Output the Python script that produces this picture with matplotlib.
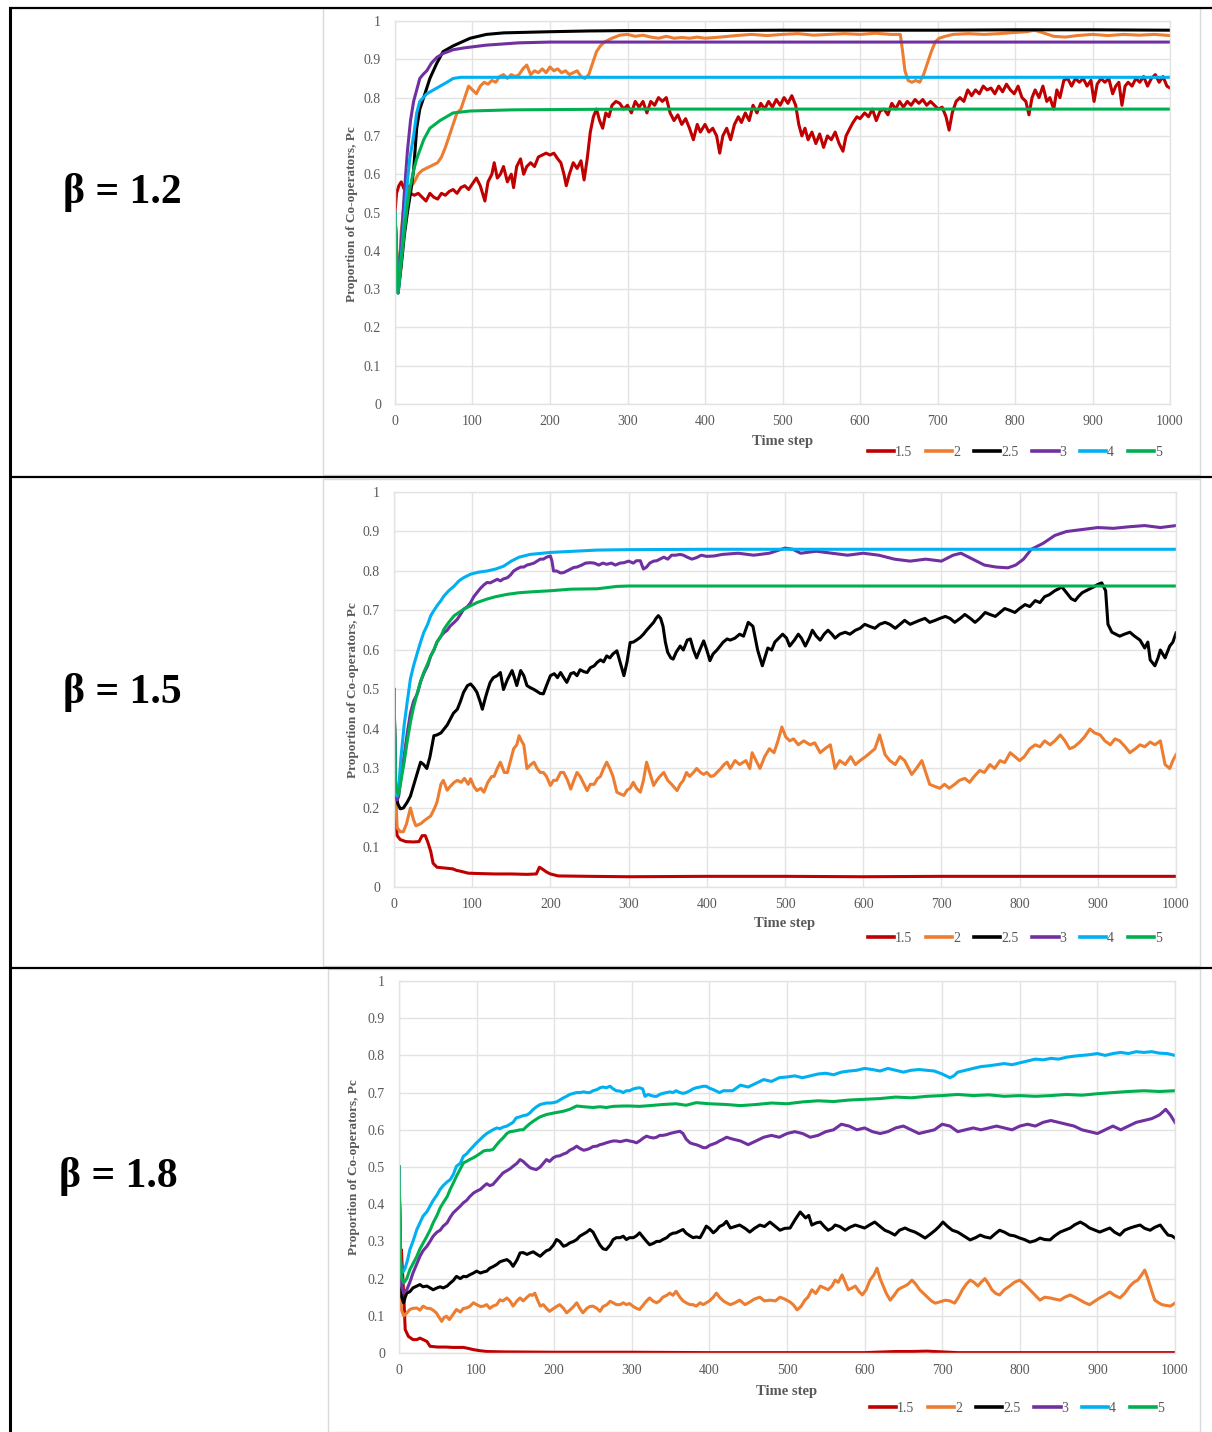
import matplotlib
matplotlib.use('Agg')
import matplotlib.pyplot as plt
from matplotlib.lines import Line2D
from matplotlib.patches import Rectangle

plt.rcParams['font.family'] = ['Liberation Serif', 'DejaVu Serif']

beta_labels = ['β = 1.2', 'β = 1.5', 'β = 1.8']
series_names = ['1.5', '2', '2.5', '3', '4', '5']
series_colors = ['#C00000', '#ED7D31', '#000000', '#7030A0', '#00B0F0', '#00B050']
x_ticks = [0, 100, 200, 300, 400, 500, 600, 700, 800, 900, 1000]
y_ticks = [0, 0.1, 0.2, 0.3, 0.4, 0.5, 0.6, 0.7, 0.8, 0.9, 1]
y_ticklabels = ['0', '0.1', '0.2', '0.3', '0.4', '0.5', '0.6', '0.7', '0.8', '0.9', '1']

# ---- beta = 1.2 : (time step, Pc) ----
b12_s15 = [(0, 0.50), (2, 0.55), (5, 0.57), (8, 0.58), (12, 0.56), (16, 0.57), (20, 0.55), (25, 0.545),
           (30, 0.55), (35, 0.54), (40, 0.53), (45, 0.55), (50, 0.54), (55, 0.535), (60, 0.55), (65, 0.545),
           (70, 0.555), (75, 0.56), (80, 0.55), (85, 0.565), (90, 0.57), (95, 0.56), (100, 0.575), (105, 0.59),
           (110, 0.57), (116, 0.53), (120, 0.58), (125, 0.60), (128, 0.63), (132, 0.59), (136, 0.60), (140, 0.62),
           (145, 0.58), (150, 0.60), (153, 0.565), (157, 0.62), (162, 0.64), (166, 0.60), (170, 0.62), (175, 0.63),
           (180, 0.62), (185, 0.645), (190, 0.65), (195, 0.655), (200, 0.65), (205, 0.655), (210, 0.64), (214, 0.63),
           (218, 0.60), (221, 0.57), (225, 0.60), (230, 0.63), (235, 0.615), (240, 0.635), (244, 0.585), (248, 0.64),
           (252, 0.71), (256, 0.75), (260, 0.77), (264, 0.74), (268, 0.72), (272, 0.76), (276, 0.75), (280, 0.78),
           (285, 0.79), (290, 0.785), (295, 0.77), (300, 0.78), (305, 0.76), (310, 0.79), (315, 0.775), (320, 0.79),
           (325, 0.76), (330, 0.79), (335, 0.78), (340, 0.80), (345, 0.79), (350, 0.80), (355, 0.76), (360, 0.74),
           (365, 0.755), (370, 0.73), (375, 0.745), (380, 0.72), (385, 0.69), (390, 0.73), (394, 0.71), (400, 0.73),
           (405, 0.71), (410, 0.72), (415, 0.70), (419, 0.655), (423, 0.70), (428, 0.72), (433, 0.69), (438, 0.73),
           (443, 0.75), (447, 0.735), (452, 0.76), (457, 0.74), (462, 0.78), (467, 0.76), (472, 0.785), (477, 0.77),
           (482, 0.79), (487, 0.775), (492, 0.795), (497, 0.78), (502, 0.80), (507, 0.785), (512, 0.805), (517, 0.78),
           (521, 0.73), (525, 0.70), (529, 0.72), (533, 0.69), (538, 0.71), (543, 0.68), (548, 0.705), (553, 0.67),
           (558, 0.70), (563, 0.69), (568, 0.71), (573, 0.68), (578, 0.66), (582, 0.70), (587, 0.72), (591, 0.735),
           (596, 0.75), (600, 0.745), (606, 0.76), (611, 0.75), (616, 0.77), (621, 0.74), (626, 0.765), (631, 0.77),
           (636, 0.755), (641, 0.785), (646, 0.77), (651, 0.79), (656, 0.775), (661, 0.79), (666, 0.78), (671, 0.795),
           (676, 0.785), (681, 0.795), (686, 0.78), (691, 0.79), (696, 0.78), (701, 0.77), (706, 0.775), (711, 0.75),
           (715, 0.715), (719, 0.76), (724, 0.79), (729, 0.80), (734, 0.79), (739, 0.82), (744, 0.805), (749, 0.82),
           (754, 0.81), (759, 0.83), (764, 0.82), (769, 0.825), (774, 0.81), (779, 0.83), (784, 0.815), (789, 0.835),
           (794, 0.82), (799, 0.81), (804, 0.83), (809, 0.80), (814, 0.79), (818, 0.755), (822, 0.80), (826, 0.82),
           (831, 0.80), (836, 0.83), (841, 0.79), (845, 0.80), (850, 0.77), (854, 0.82), (858, 0.80), (863, 0.845),
           (868, 0.85), (873, 0.83), (878, 0.85), (883, 0.84), (888, 0.85), (893, 0.83), (898, 0.845), (902, 0.79),
           (906, 0.835), (911, 0.85), (916, 0.84), (921, 0.85), (926, 0.81), (930, 0.83), (934, 0.84), (938, 0.78),
           (942, 0.83), (946, 0.84), (951, 0.83), (956, 0.85), (961, 0.84), (966, 0.855), (971, 0.83), (976, 0.85),
           (981, 0.86), (986, 0.84), (991, 0.855), (996, 0.83), (1000, 0.825)]
b12_s2 = [(0, 0.50), (4, 0.30), (8, 0.45), (12, 0.53), (16, 0.56), (20, 0.565), (25, 0.58), (30, 0.60),
          (35, 0.61), (40, 0.615), (45, 0.62), (50, 0.625), (55, 0.63), (60, 0.645), (65, 0.67), (70, 0.70),
          (75, 0.73), (80, 0.76), (85, 0.77), (90, 0.80), (95, 0.83), (100, 0.82), (105, 0.81), (110, 0.83),
          (115, 0.84), (120, 0.835), (125, 0.845), (130, 0.84), (135, 0.855), (140, 0.86), (145, 0.85), (150, 0.86),
          (155, 0.855), (160, 0.86), (165, 0.875), (170, 0.885), (175, 0.86), (180, 0.87), (185, 0.865), (190, 0.875),
          (195, 0.865), (200, 0.88), (205, 0.87), (210, 0.875), (215, 0.865), (220, 0.87), (225, 0.86), (230, 0.865),
          (235, 0.87), (240, 0.855), (245, 0.85), (250, 0.86), (255, 0.89), (260, 0.92), (265, 0.935), (270, 0.945),
          (275, 0.95), (280, 0.955), (290, 0.963), (300, 0.965), (310, 0.96), (320, 0.963), (330, 0.958), (340, 0.955),
          (350, 0.96), (360, 0.955), (370, 0.957), (380, 0.955), (390, 0.958), (400, 0.955), (420, 0.958), (440, 0.962),
          (460, 0.965), (480, 0.962), (500, 0.965), (520, 0.967), (540, 0.963), (560, 0.965), (580, 0.967), (600, 0.965),
          (620, 0.968), (640, 0.965), (652, 0.965), (655, 0.92), (658, 0.87), (662, 0.845), (667, 0.84), (672, 0.845),
          (677, 0.84), (682, 0.86), (687, 0.89), (692, 0.92), (697, 0.945), (702, 0.955), (710, 0.96), (720, 0.965),
          (740, 0.967), (760, 0.965), (780, 0.967), (800, 0.97), (815, 0.972), (825, 0.976), (835, 0.97), (850, 0.96),
          (865, 0.958), (880, 0.962), (900, 0.965), (920, 0.962), (940, 0.965), (960, 0.963), (980, 0.965), (1000, 0.962)]
b12_s25 = [(0, 0.50), (4, 0.29), (8, 0.36), (12, 0.44), (16, 0.50), (20, 0.55), (24, 0.61), (28, 0.72),
           (32, 0.77), (37, 0.80), (45, 0.85), (54, 0.89), (62, 0.92), (75, 0.935), (86, 0.945), (97, 0.955),
           (118, 0.965), (140, 0.969), (160, 0.97), (200, 0.972), (250, 0.974), (300, 0.975), (400, 0.975),
           (500, 0.976), (600, 0.976), (700, 0.976), (800, 0.977), (900, 0.977), (1000, 0.976)]
b12_s3 = [(0, 0.50), (4, 0.29), (8, 0.42), (12, 0.55), (16, 0.66), (20, 0.74), (24, 0.79), (28, 0.82),
          (32, 0.85), (36, 0.86), (41, 0.87), (47, 0.89), (54, 0.905), (62, 0.915), (75, 0.925), (90, 0.93),
          (118, 0.937), (160, 0.943), (200, 0.945), (1000, 0.945)]
b12_s4 = [(0, 0.50), (4, 0.29), (8, 0.38), (12, 0.48), (16, 0.58), (19, 0.64), (24, 0.70), (28, 0.76),
          (32, 0.79), (41, 0.81), (54, 0.825), (67, 0.84), (75, 0.85), (85, 0.853), (100, 0.853), (1000, 0.853)]
b12_s5 = [(0, 0.50), (4, 0.29), (8, 0.37), (12, 0.45), (16, 0.52), (19, 0.56), (24, 0.61), (28, 0.64),
          (37, 0.69), (45, 0.72), (58, 0.74), (75, 0.76), (97, 0.765), (150, 0.768), (300, 0.77), (1000, 0.77)]

# ---- beta = 1.5 ----
b15_s15 = [(0, 0.50), (2, 0.20), (4, 0.13), (8, 0.12), (15, 0.115), (25, 0.114), (32, 0.115), (36, 0.13),
           (40, 0.13), (43, 0.115), (47, 0.09), (50, 0.06), (55, 0.05), (65, 0.048), (75, 0.046), (80, 0.042),
           (85, 0.04), (95, 0.035), (110, 0.034), (130, 0.033), (150, 0.033), (170, 0.032), (182, 0.033),
           (186, 0.05), (190, 0.045), (195, 0.038), (200, 0.033), (210, 0.028), (250, 0.027), (300, 0.026),
           (400, 0.027), (500, 0.027), (600, 0.026), (700, 0.027), (800, 0.027), (900, 0.027), (1000, 0.027)]
b15_s2 = [(0, 0.50), (2, 0.25), (4, 0.15), (8, 0.14), (12, 0.14), (16, 0.16), (21, 0.20), (25, 0.17),
          (28, 0.155), (34, 0.16), (40, 0.17), (47, 0.18), (52, 0.20), (55, 0.215), (60, 0.26), (63, 0.27),
          (68, 0.245), (72, 0.255), (77, 0.265), (81, 0.27), (86, 0.265), (90, 0.275), (95, 0.26), (98, 0.274),
          (102, 0.255), (106, 0.244), (111, 0.25), (115, 0.24), (120, 0.265), (125, 0.28), (128, 0.28), (132, 0.30),
          (136, 0.316), (141, 0.29), (145, 0.29), (149, 0.32), (153, 0.35), (157, 0.36), (160, 0.383), (163, 0.37),
          (166, 0.36), (170, 0.30), (175, 0.31), (179, 0.316), (183, 0.30), (187, 0.29), (191, 0.29), (195, 0.28),
          (200, 0.257), (204, 0.27), (208, 0.27), (213, 0.29), (217, 0.29), (222, 0.27), (226, 0.248), (230, 0.27),
          (234, 0.29), (238, 0.28), (243, 0.26), (247, 0.244), (251, 0.26), (256, 0.26), (260, 0.274), (264, 0.28),
          (268, 0.30), (272, 0.316), (276, 0.30), (280, 0.28), (285, 0.24), (290, 0.235), (294, 0.232), (298, 0.245),
          (302, 0.25), (306, 0.265), (310, 0.25), (315, 0.24), (319, 0.27), (323, 0.316), (327, 0.29), (332, 0.257),
          (336, 0.27), (340, 0.28), (345, 0.29), (350, 0.27), (355, 0.26), (362, 0.244), (366, 0.26), (370, 0.27),
          (374, 0.29), (378, 0.28), (383, 0.29), (387, 0.30), (392, 0.29), (396, 0.285), (400, 0.29), (405, 0.28),
          (409, 0.282), (413, 0.29), (418, 0.30), (422, 0.31), (426, 0.316), (430, 0.30), (436, 0.32), (442, 0.31),
          (450, 0.32), (455, 0.30), (458, 0.34), (463, 0.32), (468, 0.30), (474, 0.33), (480, 0.35), (486, 0.34),
          (491, 0.37), (496, 0.405), (501, 0.38), (506, 0.37), (511, 0.375), (517, 0.36), (524, 0.37), (532, 0.36),
          (538, 0.365), (545, 0.34), (551, 0.35), (558, 0.36), (564, 0.30), (570, 0.32), (577, 0.31), (584, 0.33),
          (590, 0.31), (596, 0.32), (603, 0.33), (609, 0.34), (615, 0.35), (621, 0.385), (628, 0.335), (634, 0.32),
          (641, 0.31), (647, 0.33), (653, 0.32), (662, 0.285), (668, 0.30), (675, 0.32), (680, 0.29), (685, 0.26),
          (691, 0.255), (698, 0.25), (704, 0.26), (710, 0.25), (717, 0.26), (723, 0.27), (730, 0.275), (736, 0.265),
          (742, 0.28), (749, 0.295), (755, 0.29), (762, 0.31), (768, 0.30), (775, 0.32), (781, 0.315), (788, 0.34),
          (794, 0.33), (800, 0.32), (806, 0.33), (813, 0.35), (820, 0.36), (826, 0.355), (832, 0.37), (839, 0.36),
          (845, 0.37), (852, 0.385), (858, 0.37), (864, 0.35), (870, 0.355), (877, 0.367), (883, 0.38), (890, 0.40),
          (896, 0.39), (903, 0.385), (909, 0.37), (916, 0.36), (922, 0.375), (928, 0.37), (935, 0.355), (941, 0.34),
          (948, 0.35), (954, 0.36), (960, 0.355), (967, 0.367), (973, 0.36), (980, 0.37), (986, 0.31), (992, 0.30),
          (996, 0.32), (1000, 0.335)]
b15_s25 = [(0, 0.50), (2, 0.24), (5, 0.21), (8, 0.198), (12, 0.20), (17, 0.215), (21, 0.23), (25, 0.257),
           (30, 0.29), (34, 0.316), (38, 0.31), (42, 0.30), (46, 0.33), (51, 0.383), (55, 0.385), (60, 0.39),
           (64, 0.40), (68, 0.41), (72, 0.425), (76, 0.44), (81, 0.45), (85, 0.47), (89, 0.493), (94, 0.51),
           (98, 0.514), (102, 0.505), (106, 0.493), (110, 0.47), (113, 0.45), (117, 0.48), (120, 0.50), (123, 0.518),
           (127, 0.53), (132, 0.535), (136, 0.543), (140, 0.50), (145, 0.525), (151, 0.548), (154, 0.53), (157, 0.51),
           (162, 0.548), (166, 0.535), (170, 0.51), (174, 0.505), (179, 0.50), (183, 0.495), (187, 0.49), (191, 0.489),
           (195, 0.51), (200, 0.535), (205, 0.54), (209, 0.53), (213, 0.543), (217, 0.53), (221, 0.518), (226, 0.54),
           (230, 0.543), (234, 0.535), (238, 0.55), (243, 0.545), (247, 0.543), (251, 0.555), (256, 0.56), (260, 0.569),
           (264, 0.575), (268, 0.57), (272, 0.585), (276, 0.58), (280, 0.59), (285, 0.598), (289, 0.57), (294, 0.535),
           (298, 0.57), (302, 0.619), (306, 0.62), (310, 0.625), (315, 0.632), (319, 0.64), (323, 0.65), (328, 0.661),
           (332, 0.67), (335, 0.68), (338, 0.687), (341, 0.68), (344, 0.66), (347, 0.62), (350, 0.594), (354, 0.58),
           (357, 0.577), (361, 0.595), (366, 0.61), (370, 0.60), (375, 0.625), (379, 0.628), (383, 0.60), (387, 0.58),
           (391, 0.60), (396, 0.623), (400, 0.60), (404, 0.573), (408, 0.59), (413, 0.60), (417, 0.61), (421, 0.62),
           (426, 0.628), (430, 0.625), (436, 0.63), (442, 0.64), (447, 0.635), (453, 0.67), (459, 0.66), (465, 0.60),
           (471, 0.56), (478, 0.605), (483, 0.60), (487, 0.62), (492, 0.63), (497, 0.64), (502, 0.63), (506, 0.61),
           (512, 0.625), (517, 0.64), (521, 0.63), (526, 0.61), (531, 0.63), (535, 0.65), (540, 0.635), (545, 0.625),
           (550, 0.64), (555, 0.65), (560, 0.64), (564, 0.63), (570, 0.64), (577, 0.645), (583, 0.64), (590, 0.65),
           (596, 0.655), (602, 0.665), (608, 0.66), (615, 0.655), (621, 0.665), (628, 0.67), (634, 0.665),
           (641, 0.655), (647, 0.665), (653, 0.675), (660, 0.665), (666, 0.67), (672, 0.675), (679, 0.68),
           (685, 0.67), (692, 0.675), (698, 0.68), (705, 0.685), (711, 0.68), (717, 0.67), (724, 0.68), (730, 0.69),
           (737, 0.68), (743, 0.67), (749, 0.68), (756, 0.695), (762, 0.69), (769, 0.685), (775, 0.695), (781, 0.705),
           (788, 0.70), (794, 0.695), (800, 0.705), (807, 0.715), (813, 0.71), (820, 0.725), (826, 0.72),
           (832, 0.735), (838, 0.74), (845, 0.75), (850, 0.755), (854, 0.76), (858, 0.75), (862, 0.74), (866, 0.73),
           (871, 0.725), (875, 0.735), (880, 0.745), (885, 0.75), (890, 0.755), (895, 0.76), (899, 0.765),
           (905, 0.77), (910, 0.75), (913, 0.665), (918, 0.645), (923, 0.64), (928, 0.635), (934, 0.64),
           (941, 0.645), (947, 0.635), (954, 0.625), (960, 0.605), (964, 0.62), (967, 0.575), (973, 0.56),
           (977, 0.58), (980, 0.60), (986, 0.58), (992, 0.61), (996, 0.62), (1000, 0.643)]
b15_s3 = [(0, 0.50), (2, 0.25), (4, 0.22), (6, 0.23), (9, 0.28), (13, 0.333), (17, 0.39), (21, 0.44),
          (25, 0.47), (30, 0.49), (34, 0.52), (38, 0.54), (43, 0.56), (47, 0.585), (51, 0.60), (55, 0.62),
          (60, 0.635), (64, 0.644), (68, 0.65), (72, 0.661), (77, 0.67), (81, 0.678), (85, 0.69), (89, 0.703),
          (94, 0.71), (98, 0.72), (102, 0.735), (106, 0.745), (110, 0.755), (115, 0.765), (119, 0.771), (123, 0.77),
          (128, 0.775), (132, 0.779), (136, 0.775), (140, 0.78), (145, 0.783), (149, 0.79), (153, 0.80), (157, 0.805),
          (162, 0.81), (166, 0.81), (170, 0.815), (174, 0.817), (179, 0.82), (183, 0.825), (187, 0.83), (191, 0.83),
          (195, 0.835), (200, 0.838), (202, 0.825), (204, 0.80), (208, 0.80), (213, 0.795), (217, 0.796), (221, 0.80),
          (226, 0.805), (230, 0.809), (234, 0.81), (240, 0.815), (245, 0.82), (251, 0.821), (256, 0.82), (262, 0.815),
          (267, 0.82), (272, 0.817), (278, 0.82), (283, 0.815), (289, 0.82), (294, 0.821), (300, 0.825), (306, 0.82),
          (310, 0.826), (315, 0.826), (317, 0.815), (319, 0.805), (323, 0.81), (327, 0.82), (332, 0.825), (336, 0.826),
          (340, 0.83), (345, 0.835), (350, 0.83), (355, 0.84), (360, 0.84), (366, 0.842), (370, 0.84), (375, 0.835),
          (381, 0.83), (387, 0.834), (393, 0.84), (400, 0.837), (409, 0.838), (420, 0.842), (440, 0.845), (460, 0.84),
          (480, 0.845), (500, 0.858), (510, 0.855), (520, 0.845), (540, 0.85), (560, 0.845), (580, 0.84), (600, 0.845),
          (620, 0.84), (640, 0.83), (660, 0.825), (680, 0.83), (700, 0.825), (715, 0.84), (725, 0.845), (740, 0.83),
          (755, 0.815), (770, 0.81), (785, 0.808), (795, 0.815), (805, 0.83), (815, 0.855), (830, 0.87), (845, 0.89),
          (860, 0.90), (880, 0.905), (900, 0.91), (920, 0.908), (940, 0.912), (960, 0.915), (980, 0.91), (1000, 0.915)]
b15_s4 = [(0, 0.50), (2, 0.25), (4, 0.23), (6, 0.25), (9, 0.33), (13, 0.41), (17, 0.47), (21, 0.527),
          (25, 0.56), (30, 0.594), (34, 0.62), (38, 0.644), (43, 0.665), (47, 0.687), (51, 0.70), (55, 0.712),
          (60, 0.725), (64, 0.737), (70, 0.75), (77, 0.762), (83, 0.775), (89, 0.783), (98, 0.792), (108, 0.797),
          (119, 0.80), (130, 0.805), (140, 0.812), (150, 0.825), (160, 0.835), (174, 0.842), (190, 0.845),
          (200, 0.847), (230, 0.85), (260, 0.853), (300, 0.854), (400, 0.855), (1000, 0.855)]
b15_s5 = [(0, 0.50), (2, 0.27), (4, 0.24), (6, 0.236), (9, 0.27), (13, 0.316), (17, 0.37), (21, 0.417),
          (25, 0.455), (30, 0.493), (34, 0.52), (38, 0.543), (43, 0.565), (47, 0.585), (51, 0.60), (55, 0.62),
          (60, 0.635), (64, 0.653), (70, 0.67), (77, 0.687), (83, 0.695), (89, 0.703), (98, 0.712), (106, 0.72),
          (119, 0.729), (130, 0.735), (145, 0.741), (160, 0.745), (174, 0.747), (200, 0.75), (226, 0.754),
          (260, 0.755), (285, 0.761), (300, 0.762), (1000, 0.762)]

# ---- beta = 1.8 ----
b18_s15 = [(0, 0.50), (2, 0.20), (3, 0.278), (5, 0.20), (6, 0.16), (8, 0.063), (12, 0.045), (18, 0.036),
           (23, 0.036), (27, 0.04), (32, 0.035), (36, 0.031), (40, 0.018), (50, 0.016), (60, 0.016), (70, 0.015),
           (83, 0.015), (90, 0.012), (96, 0.009), (105, 0.006), (113, 0.004), (134, 0.003), (200, 0.002),
           (300, 0.002), (400, 0.001), (600, 0.001), (640, 0.004), (660, 0.004), (680, 0.005), (700, 0.003),
           (720, 0.001), (1000, 0.001)]
b18_s2 = [(0, 0.50), (2, 0.20), (3, 0.117), (6, 0.10), (8, 0.103), (11, 0.11), (14, 0.117), (18, 0.12),
          (23, 0.121), (27, 0.115), (31, 0.126), (36, 0.12), (40, 0.12), (44, 0.115), (48, 0.108), (52, 0.095),
          (55, 0.085), (58, 0.095), (61, 0.099), (65, 0.09), (70, 0.105), (74, 0.117), (79, 0.11), (83, 0.12),
          (87, 0.121), (91, 0.125), (96, 0.135), (100, 0.13), (105, 0.125), (109, 0.126), (113, 0.13), (117, 0.12),
          (121, 0.126), (126, 0.13), (130, 0.143), (134, 0.14), (139, 0.148), (143, 0.14), (147, 0.126), (152, 0.14),
          (156, 0.148), (160, 0.14), (165, 0.15), (169, 0.157), (172, 0.155), (175, 0.161), (178, 0.145), (182, 0.126),
          (186, 0.13), (190, 0.12), (194, 0.112), (198, 0.118), (203, 0.125), (207, 0.13), (212, 0.12), (216, 0.108),
          (220, 0.115), (225, 0.125), (229, 0.135), (233, 0.12), (237, 0.108), (242, 0.12), (246, 0.125), (250, 0.126),
          (255, 0.12), (259, 0.112), (263, 0.125), (268, 0.13), (272, 0.139), (276, 0.135), (280, 0.13), (285, 0.13),
          (289, 0.135), (293, 0.13), (297, 0.133), (302, 0.125), (306, 0.12), (310, 0.117), (315, 0.13), (319, 0.14),
          (323, 0.148), (327, 0.14), (332, 0.135), (336, 0.14), (340, 0.15), (345, 0.155), (349, 0.161), (353, 0.155),
          (357, 0.166), (362, 0.15), (366, 0.14), (370, 0.135), (375, 0.13), (379, 0.13), (383, 0.126), (388, 0.135),
          (392, 0.13), (396, 0.135), (400, 0.14), (405, 0.15), (409, 0.161), (413, 0.15), (418, 0.14), (422, 0.135),
          (427, 0.13), (433, 0.135), (439, 0.142), (446, 0.13), (452, 0.137), (458, 0.145), (465, 0.15), (471, 0.14),
          (478, 0.142), (485, 0.14), (491, 0.15), (497, 0.145), (504, 0.137), (508, 0.13), (513, 0.116), (518, 0.125),
          (523, 0.142), (527, 0.15), (532, 0.17), (537, 0.16), (543, 0.18), (548, 0.175), (553, 0.17), (558, 0.18),
          (562, 0.196), (566, 0.19), (571, 0.21), (575, 0.19), (579, 0.17), (584, 0.175), (588, 0.18), (593, 0.165),
          (597, 0.156), (602, 0.17), (607, 0.196), (612, 0.21), (616, 0.228), (620, 0.20), (624, 0.18), (628, 0.16),
          (633, 0.142), (638, 0.155), (643, 0.17), (647, 0.175), (652, 0.18), (656, 0.185), (661, 0.196), (666, 0.185),
          (671, 0.17), (676, 0.16), (682, 0.148), (686, 0.14), (691, 0.134), (698, 0.138), (704, 0.142), (710, 0.14),
          (716, 0.134), (721, 0.15), (726, 0.17), (731, 0.185), (736, 0.196), (741, 0.19), (746, 0.18), (750, 0.19),
          (755, 0.20), (760, 0.185), (764, 0.17), (769, 0.16), (774, 0.156), (780, 0.17), (787, 0.18), (793, 0.19),
          (800, 0.196), (806, 0.185), (813, 0.17), (820, 0.155), (826, 0.142), (832, 0.15), (839, 0.148),
          (845, 0.145), (852, 0.142), (858, 0.15), (865, 0.156), (871, 0.15), (878, 0.142), (884, 0.135),
          (890, 0.13), (897, 0.14), (903, 0.148), (909, 0.155), (916, 0.164), (922, 0.155), (929, 0.148),
          (935, 0.16), (942, 0.18), (947, 0.19), (952, 0.196), (957, 0.21), (961, 0.223), (965, 0.20), (968, 0.18),
          (971, 0.16), (974, 0.142), (979, 0.135), (983, 0.13), (988, 0.128), (994, 0.126), (1000, 0.134)]
b18_s25 = [(0, 0.50), (2, 0.20), (3, 0.152), (6, 0.135), (8, 0.15), (10, 0.161), (14, 0.165), (18, 0.175),
           (23, 0.18), (27, 0.184), (31, 0.178), (36, 0.18), (40, 0.175), (44, 0.17), (49, 0.175), (53, 0.178),
           (57, 0.175), (62, 0.18), (66, 0.188), (70, 0.195), (74, 0.206), (79, 0.20), (83, 0.206), (87, 0.205),
           (91, 0.21), (96, 0.215), (100, 0.22), (105, 0.215), (109, 0.218), (113, 0.22), (117, 0.228), (121, 0.232),
           (126, 0.238), (130, 0.245), (134, 0.248), (139, 0.251), (143, 0.245), (147, 0.233), (152, 0.25), (156, 0.269),
           (160, 0.27), (165, 0.265), (169, 0.269), (173, 0.272), (178, 0.265), (182, 0.26), (186, 0.268), (190, 0.275),
           (194, 0.278), (199, 0.29), (203, 0.305), (207, 0.30), (212, 0.287), (216, 0.29), (220, 0.296), (225, 0.30),
           (229, 0.305), (233, 0.314), (238, 0.32), (242, 0.325), (246, 0.332), (250, 0.325), (255, 0.305), (259, 0.29),
           (263, 0.28), (267, 0.278), (272, 0.29), (276, 0.305), (280, 0.31), (285, 0.31), (289, 0.314), (293, 0.305),
           (297, 0.31), (302, 0.31), (306, 0.315), (310, 0.323), (315, 0.31), (319, 0.30), (323, 0.291), (328, 0.295),
           (332, 0.30), (336, 0.30), (340, 0.305), (345, 0.31), (349, 0.318), (353, 0.322), (357, 0.323), (362, 0.328),
           (366, 0.332), (370, 0.322), (375, 0.315), (379, 0.31), (383, 0.312), (388, 0.31), (392, 0.325), (396, 0.341),
           (400, 0.335), (405, 0.323), (409, 0.33), (413, 0.34), (418, 0.345), (422, 0.354), (427, 0.336), (433, 0.34),
           (439, 0.344), (446, 0.335), (452, 0.325), (458, 0.335), (465, 0.344), (471, 0.34), (478, 0.352),
           (485, 0.34), (491, 0.33), (497, 0.335), (504, 0.336), (510, 0.357), (517, 0.379), (524, 0.363),
           (528, 0.37), (532, 0.344), (538, 0.35), (543, 0.352), (548, 0.34), (553, 0.33), (558, 0.335), (562, 0.344),
           (568, 0.34), (575, 0.33), (581, 0.338), (588, 0.344), (594, 0.34), (600, 0.336), (607, 0.345),
           (613, 0.352), (620, 0.34), (626, 0.33), (632, 0.325), (639, 0.317), (645, 0.33), (652, 0.336),
           (658, 0.33), (665, 0.325), (671, 0.318), (678, 0.309), (685, 0.32), (691, 0.33), (696, 0.34), (701, 0.352),
           (707, 0.34), (713, 0.33), (720, 0.325), (726, 0.317), (731, 0.31), (736, 0.304), (743, 0.31),
           (749, 0.317), (755, 0.312), (762, 0.309), (768, 0.32), (774, 0.33), (780, 0.325), (787, 0.317),
           (793, 0.315), (800, 0.309), (806, 0.305), (813, 0.298), (820, 0.302), (826, 0.309), (832, 0.305),
           (839, 0.304), (845, 0.315), (852, 0.325), (858, 0.33), (865, 0.336), (871, 0.345), (878, 0.352),
           (884, 0.345), (890, 0.336), (897, 0.33), (903, 0.325), (909, 0.33), (916, 0.336), (922, 0.325),
           (929, 0.317), (935, 0.33), (942, 0.336), (948, 0.34), (955, 0.344), (961, 0.335), (968, 0.33),
           (974, 0.338), (981, 0.344), (986, 0.33), (991, 0.317), (996, 0.315), (1000, 0.309)]
b18_s3 = [(0, 0.50), (2, 0.25), (3, 0.184), (6, 0.161), (10, 0.17), (14, 0.19), (18, 0.215), (23, 0.24),
          (27, 0.26), (31, 0.275), (36, 0.287), (40, 0.30), (44, 0.314), (49, 0.325), (53, 0.33), (57, 0.341),
          (62, 0.35), (66, 0.365), (70, 0.377), (74, 0.385), (79, 0.395), (83, 0.404), (87, 0.41), (91, 0.42),
          (96, 0.43), (100, 0.435), (105, 0.44), (109, 0.448), (113, 0.455), (117, 0.45), (121, 0.453), (126, 0.465),
          (130, 0.475), (134, 0.484), (139, 0.49), (143, 0.495), (147, 0.502), (152, 0.51), (156, 0.52), (160, 0.515),
          (165, 0.505), (169, 0.498), (173, 0.495), (177, 0.493), (182, 0.50), (186, 0.51), (190, 0.52), (194, 0.515),
          (199, 0.525), (203, 0.529), (207, 0.53), (212, 0.535), (216, 0.538), (220, 0.545), (225, 0.55), (229, 0.556),
          (233, 0.55), (238, 0.545), (242, 0.547), (246, 0.55), (250, 0.555), (255, 0.556), (259, 0.56), (263, 0.562),
          (267, 0.565), (272, 0.568), (276, 0.57), (280, 0.57), (285, 0.568), (289, 0.57), (293, 0.572), (297, 0.57),
          (302, 0.568), (306, 0.565), (310, 0.57), (315, 0.578), (319, 0.583), (323, 0.58), (328, 0.578), (332, 0.58),
          (336, 0.585), (340, 0.585), (345, 0.587), (349, 0.59), (353, 0.592), (357, 0.594), (362, 0.596), (366, 0.59),
          (370, 0.575), (375, 0.565), (379, 0.562), (383, 0.56), (388, 0.556), (392, 0.552), (396, 0.552), (400, 0.558),
          (405, 0.562), (409, 0.565), (413, 0.57), (418, 0.575), (422, 0.58), (430, 0.575), (440, 0.57), (450, 0.56),
          (460, 0.57), (470, 0.58), (480, 0.585), (490, 0.58), (500, 0.59), (510, 0.595), (520, 0.59), (530, 0.58),
          (540, 0.585), (550, 0.595), (560, 0.60), (570, 0.615), (580, 0.61), (590, 0.60), (600, 0.605), (610, 0.595),
          (620, 0.59), (630, 0.595), (640, 0.605), (650, 0.61), (660, 0.60), (670, 0.59), (680, 0.595), (690, 0.60),
          (700, 0.615), (710, 0.61), (720, 0.595), (730, 0.60), (740, 0.605), (750, 0.60), (760, 0.605), (770, 0.61),
          (780, 0.605), (790, 0.60), (800, 0.61), (810, 0.615), (820, 0.61), (830, 0.62), (840, 0.625), (850, 0.62),
          (860, 0.615), (870, 0.61), (880, 0.60), (890, 0.595), (900, 0.59), (910, 0.60), (920, 0.61), (930, 0.60),
          (940, 0.61), (950, 0.62), (960, 0.625), (970, 0.63), (980, 0.64), (988, 0.655), (994, 0.64), (1000, 0.62)]
b18_s4 = [(0, 0.50), (2, 0.25), (3, 0.215), (6, 0.22), (8, 0.229), (11, 0.25), (14, 0.278), (18, 0.30),
          (23, 0.332), (27, 0.35), (31, 0.368), (36, 0.38), (40, 0.395), (44, 0.41), (49, 0.425), (53, 0.44),
          (57, 0.45), (62, 0.46), (66, 0.466), (70, 0.48), (74, 0.502), (79, 0.51), (83, 0.529), (87, 0.535),
          (91, 0.545), (96, 0.556), (100, 0.565), (105, 0.575), (109, 0.583), (113, 0.59), (117, 0.595), (121, 0.60),
          (126, 0.605), (130, 0.603), (134, 0.607), (139, 0.61), (143, 0.615), (147, 0.62), (151, 0.632), (156, 0.635),
          (160, 0.638), (165, 0.64), (169, 0.646), (173, 0.655), (178, 0.663), (182, 0.668), (186, 0.67), (190, 0.672),
          (195, 0.672), (199, 0.673), (203, 0.675), (207, 0.68), (212, 0.686), (216, 0.69), (220, 0.695), (225, 0.698),
          (229, 0.70), (233, 0.70), (238, 0.702), (242, 0.70), (246, 0.70), (250, 0.705), (255, 0.708), (259, 0.713),
          (263, 0.715), (267, 0.713), (272, 0.717), (276, 0.71), (280, 0.705), (285, 0.704), (289, 0.70), (293, 0.705),
          (297, 0.705), (302, 0.71), (306, 0.712), (310, 0.713), (314, 0.71), (317, 0.69), (321, 0.695), (325, 0.692),
          (329, 0.69), (332, 0.69), (336, 0.695), (340, 0.698), (345, 0.70), (349, 0.702), (353, 0.70), (357, 0.705),
          (362, 0.70), (366, 0.698), (370, 0.70), (375, 0.705), (379, 0.71), (383, 0.713), (388, 0.715), (392, 0.717),
          (396, 0.717), (400, 0.712), (405, 0.708), (409, 0.704), (413, 0.70), (418, 0.705), (422, 0.705), (430, 0.705),
          (440, 0.72), (450, 0.715), (460, 0.725), (470, 0.735), (480, 0.73), (490, 0.74), (500, 0.742), (510, 0.745),
          (520, 0.74), (530, 0.745), (540, 0.75), (550, 0.752), (560, 0.748), (570, 0.755), (580, 0.758), (590, 0.76),
          (600, 0.765), (610, 0.762), (620, 0.758), (630, 0.765), (640, 0.76), (650, 0.755), (660, 0.76), (670, 0.762),
          (680, 0.76), (690, 0.758), (700, 0.75), (705, 0.745), (710, 0.74), (715, 0.745), (720, 0.755), (730, 0.76),
          (740, 0.765), (750, 0.77), (760, 0.772), (770, 0.775), (780, 0.778), (790, 0.775), (800, 0.78), (810, 0.785),
          (820, 0.79), (830, 0.788), (840, 0.792), (850, 0.79), (860, 0.795), (870, 0.798), (880, 0.80), (890, 0.802),
          (900, 0.805), (910, 0.80), (920, 0.805), (930, 0.808), (940, 0.805), (950, 0.81), (960, 0.808), (970, 0.81),
          (980, 0.806), (990, 0.805), (1000, 0.80)]
b18_s5 = [(0, 0.50), (2, 0.25), (3, 0.206), (6, 0.188), (10, 0.20), (14, 0.224), (18, 0.24), (23, 0.26),
          (27, 0.28), (31, 0.295), (36, 0.314), (40, 0.33), (44, 0.35), (49, 0.37), (53, 0.39), (57, 0.404),
          (62, 0.42), (66, 0.44), (70, 0.457), (74, 0.475), (79, 0.495), (83, 0.511), (87, 0.515), (91, 0.52),
          (96, 0.525), (100, 0.53), (105, 0.537), (109, 0.543), (113, 0.545), (117, 0.545), (121, 0.547), (126, 0.56),
          (130, 0.57), (134, 0.578), (139, 0.59), (143, 0.595), (147, 0.596), (152, 0.598), (156, 0.60), (160, 0.60),
          (165, 0.61), (169, 0.617), (173, 0.623), (178, 0.63), (182, 0.635), (186, 0.638), (190, 0.641), (199, 0.645),
          (207, 0.648), (212, 0.65), (220, 0.655), (229, 0.664), (238, 0.662), (250, 0.66), (259, 0.662), (267, 0.66),
          (276, 0.663), (289, 0.664), (297, 0.664), (310, 0.663), (323, 0.665), (340, 0.668), (357, 0.67), (370, 0.666),
          (383, 0.673), (400, 0.67), (422, 0.668), (440, 0.665), (460, 0.668), (480, 0.672), (500, 0.67), (520, 0.675),
          (540, 0.678), (560, 0.676), (580, 0.68), (600, 0.682), (620, 0.684), (640, 0.688), (660, 0.686), (680, 0.69),
          (700, 0.692), (720, 0.695), (740, 0.692), (760, 0.694), (780, 0.69), (800, 0.692), (820, 0.69), (840, 0.692),
          (860, 0.695), (880, 0.693), (900, 0.697), (920, 0.70), (940, 0.703), (960, 0.705), (980, 0.703), (1000, 0.705)]

panels = [
    [b12_s15, b12_s2, b12_s25, b12_s3, b12_s4, b12_s5],
    [b15_s15, b15_s2, b15_s25, b15_s3, b15_s4, b15_s5],
    [b18_s15, b18_s2, b18_s25, b18_s3, b18_s4, b18_s5],
]

# layout in pixels of the 1212 x 1432 page
W, H = 1212, 1432
plot_boxes = [(395, 21, 1170, 404), (394, 492, 1176, 887), (399, 981, 1175, 1353)]   # left, top, right, bottom
frames = [(323, 8, 1200, 475), (323, 479, 1200, 966), (328, 969, 1200, 1432)]
beta_pos = [(122, 193), (122, 693), (118, 1177)]
xlabel_pos = [(783, 441), (785, 923), (787, 1391)]
ylabel_pos = [(352, 214), (353, 690), (354, 1167)]
legend_pos = [(1162, 452), (1162, 938), (1164, 1408)]

gray_text = '#595959'
grid_col = '#e3e3e3'

fig = plt.figure(figsize=(W / 100, H / 100), dpi=100)
bg = fig.add_axes([0, 0, 1, 1])
bg.set_xlim(0, W)
bg.set_ylim(H, 0)
bg.axis('off')

# table rules
bg.plot([9, W], [7.5, 7.5], color='black', lw=1.6, solid_capstyle='butt')
bg.plot([9, W], [476.5, 476.5], color='black', lw=1.6, solid_capstyle='butt')
bg.plot([9, W], [967.5, 967.5], color='black', lw=1.6, solid_capstyle='butt')
bg.plot([9.5, 9.5], [6.5, H], color='black', lw=2.2, solid_capstyle='butt')

for i in range(3):
    fx0, fy0, fx1, fy1 = frames[i]
    bg.add_patch(Rectangle((fx0, fy0), fx1 - fx0, fy1 - fy0, facecolor='white',
                           edgecolor='#d9d9d9', lw=1.0))
    bg.text(beta_pos[i][0], beta_pos[i][1], beta_labels[i], fontsize=30, fontweight='bold',
            ha='center', va='center', color='black')
    bg.text(xlabel_pos[i][0], xlabel_pos[i][1], 'Time step', fontsize=10.5, fontweight='bold',
            ha='center', va='center', color=gray_text)
    bg.text(ylabel_pos[i][0], ylabel_pos[i][1], 'Proportion of Co-operators, Pc', fontsize=9.5,
            fontweight='bold', ha='center', va='center', rotation=90, color=gray_text)

    l, t, r, b = plot_boxes[i]
    ax = fig.add_axes([l / W, 1 - b / H, (r - l) / W, (b - t) / H])
    for k in range(6):
        xs = [p[0] for p in panels[i][k]]
        ys = [p[1] for p in panels[i][k]]
        ax.plot(xs, ys, color=series_colors[k], lw=2.2, solid_joinstyle='round')
    ax.set_xlim(0, 1000)
    ax.set_ylim(0, 1)
    ax.set_xticks(x_ticks)
    ax.set_yticks(y_ticks)
    ax.set_yticklabels(y_ticklabels)
    ax.tick_params(length=0, labelsize=10, labelcolor=gray_text)
    ax.tick_params(axis='x', pad=8)
    ax.tick_params(axis='y', pad=10)
    ax.grid(True, color=grid_col, lw=1.0)
    ax.set_axisbelow(True)
    for s in ax.spines.values():
        s.set_color(grid_col)
        s.set_linewidth(1.0)

    handles = [Line2D([], [], color=series_colors[k], lw=2.6) for k in range(6)]
    leg = ax.legend(handles, series_names, loc='center right', ncol=6, frameon=False,
                    bbox_to_anchor=legend_pos[i], bbox_transform=bg.transData,
                    fontsize=10, handlelength=1.9, handletextpad=0.05, columnspacing=1.0,
                    borderpad=0, borderaxespad=0)
    for txt in leg.get_texts():
        txt.set_color(gray_text)

fig.savefig('out.png', dpi=100)
